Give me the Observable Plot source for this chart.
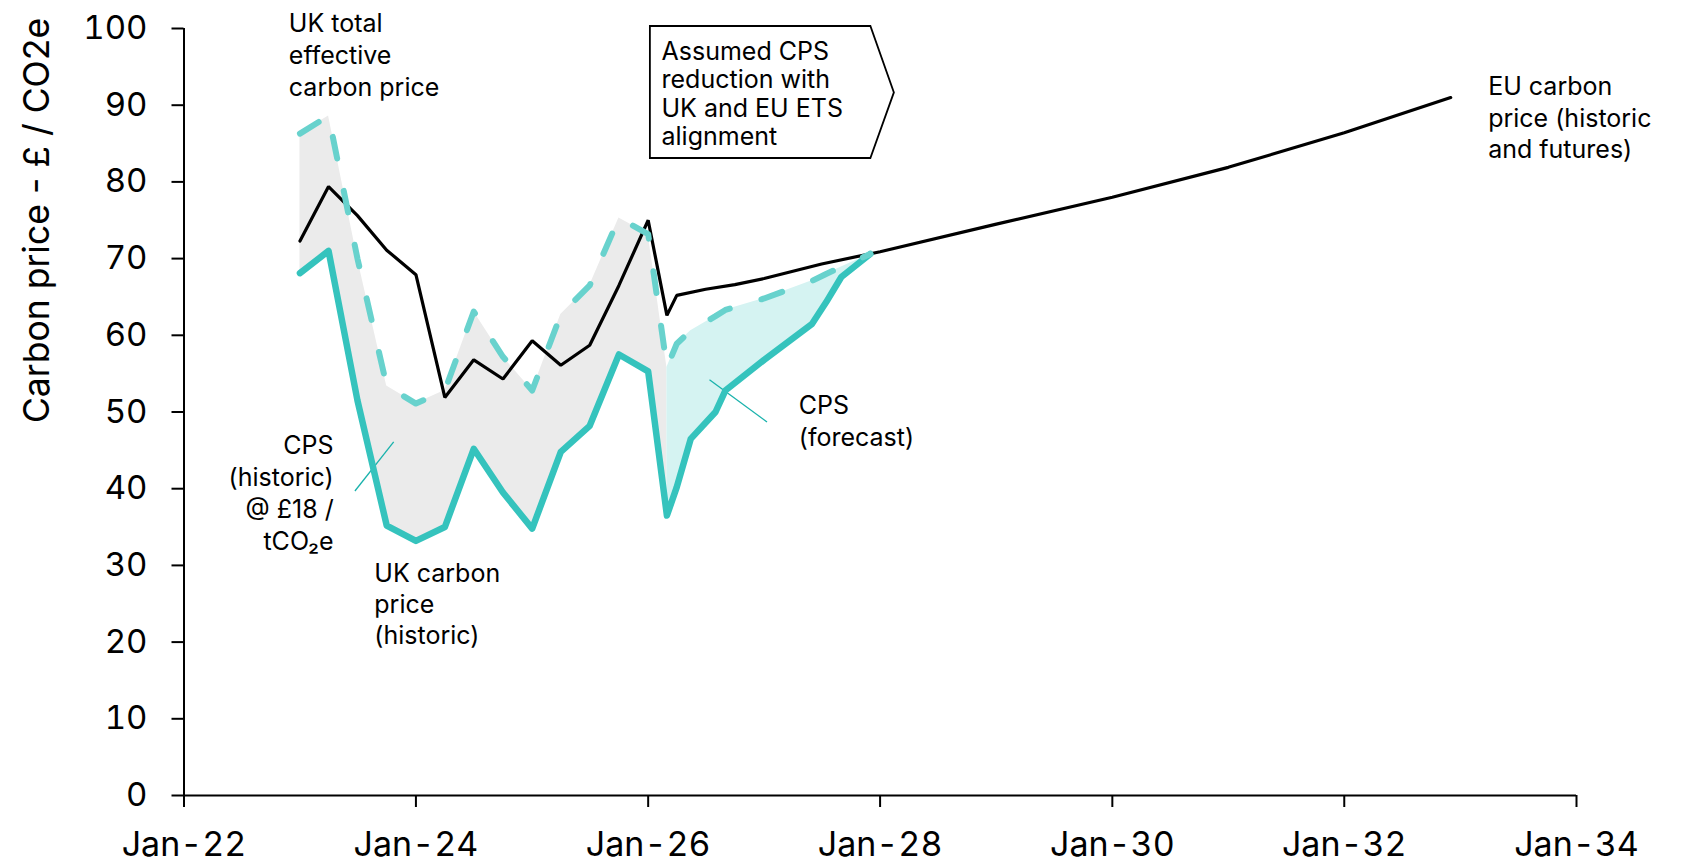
<!DOCTYPE html>
<html><head><meta charset="utf-8">
<script src="https://cdn.jsdelivr.net/npm/d3@7"></script>
<script src="https://cdn.jsdelivr.net/npm/@observablehq/plot@0.6"></script>
<style>
html,body{margin:0;padding:0;background:#fff;}
#chart{width:1693px;height:862px;}
</style></head><body><div id="chart"></div>
<script>
// ---- data ----
const histDates = ["2023-01-01","2023-04-01","2023-07-01","2023-10-01","2024-01-01","2024-04-01","2024-07-01","2024-10-01","2025-01-01","2025-04-01","2025-07-01","2025-10-01","2026-01-01","2026-03-01"];
const ukCarbonHist = [68.1,71.0,51.5,35.2,33.2,35.0,45.2,39.5,34.8,44.8,48.2,57.5,55.3,36.5];
const cpsUpperHist = [86.3,88.6,70.0,53.4,51.1,52.8,63.1,57.2,52.8,62.7,66.5,75.3,73.2,55.8];

const forecastDates = ["2026-03-01","2026-04-01","2026-05-15","2026-08-01","2026-09-01","2027-01-01","2027-06-01","2027-07-15","2027-09-01","2027-12-01"];
const ukCarbonForecast = [36.5,40.2,46.5,50.0,52.8,56.8,61.5,64.3,67.6,70.6];
const cpsUpperForecast = [55.8,58.9,60.6,62.5,63.3,64.8,67.1,68.0,68.9,70.6];

const totalDates = ["2023-01-01","2023-04-01","2023-07-01","2023-10-01","2024-01-01","2024-04-01","2024-07-01","2024-10-01","2025-01-01","2025-04-01","2025-07-01","2025-10-01","2026-01-01","2026-03-01","2026-04-01","2026-07-01","2026-10-01","2027-01-01","2027-07-01","2028-01-01","2029-01-01","2030-01-01","2031-01-01","2032-01-01","2032-12-01"];
const totalPrice = [72.3,79.4,75.6,71.1,67.9,51.9,56.8,54.3,59.3,56.1,58.7,66.5,75.0,62.6,65.2,66.0,66.6,67.4,69.3,70.9,74.5,78.0,81.9,86.4,91.0];

const xTickDates = ["2022-01-01","2024-01-01","2026-01-01","2028-01-01","2030-01-01","2032-01-01","2034-01-01"];
const xTickLabels = ["Jan-22","Jan-24","Jan-26","Jan-28","Jan-30","Jan-32","Jan-34"];
const yTicks = [0,10,20,30,40,50,60,70,80,90,100];
const yLabel = "Carbon price - £ / CO2e";

const annoText = ["UK total\neffective\ncarbon price","EU carbon\nprice (historic\nand futures)","CPS\n(forecast)","CPS\n(historic)\n@ £18 /\ntCO₂e","UK carbon\nprice\n(historic)","Assumed CPS\nreduction with\nUK and EU ETS\nalignment"];

// ---- layout / annotation placement ----
const parse = d3.utcParse("%Y-%m-%d");
const annoPos = [
  {d:"2022-11-27", v:102.5, anchor:"start", lh:1.28},
  {d:"2033-03-29", v:94.3, anchor:"start", lh:1.27},
  {d:"2027-04-20", v:52.7, anchor:"start", lh:1.28},
  {d:"2023-04-17", v:47.5, anchor:"end", lh:1.28},
  {d:"2023-08-23", v:30.7, anchor:"start", lh:1.24},
  {d:"2026-02-12", v:98.6, anchor:"start", lh:1.144}
];
const leaders = [
  {x1:"2026-07-13", y1:54.2, x2:"2027-01-10", y2:48.7},
  {x1:"2023-06-23", y1:39.7, x2:"2023-10-23", y2:46.1}
].map(l => ({x1:parse(l.x1), y1:l.y1, x2:parse(l.x2), y2:l.y2}));
const calloutBox = {left:"2026-01-08", right:"2027-12-03", tip:"2028-02-15", top:100.26, bottom:83.05, mid:91.6};

const hist = histDates.map((d,i)=>({date:parse(d), low:ukCarbonHist[i], high:cpsUpperHist[i]}));
const fc = forecastDates.map((d,i)=>({date:parse(d), low:ukCarbonForecast[i], high:cpsUpperForecast[i]}));
const bothSeries = hist.concat(fc.slice(1));
const total = totalDates.map((d,i)=>({date:parse(d), v:totalPrice[i]}));
const xTicks = xTickDates.map(parse);

const TEAL = "#35c3bd", TEAL_DASH = "#68d2cd", GREY = "#ebebeb", TEAL_FILL = "#d5f3f2";

const boxMark = (index, scales) => {
  const x = scales.x, y = scales.y;
  const L = x(parse(calloutBox.left)), R = x(parse(calloutBox.right)), T = x(parse(calloutBox.tip));
  const top = y(calloutBox.top), bot = y(calloutBox.bottom), mid = y(calloutBox.mid);
  const p = document.createElementNS("http://www.w3.org/2000/svg","path");
  p.setAttribute("d", `M${L},${top}L${R},${top}L${T},${mid}L${R},${bot}L${L},${bot}Z`);
  p.setAttribute("fill","#fff"); p.setAttribute("stroke","#000"); p.setAttribute("stroke-width","1.8");
  return p;
};

const textMarks = annoText.map((t,i)=>Plot.text([t], {
  x: () => parse(annoPos[i].d), y: () => annoPos[i].v,
  text: d => d, textAnchor: annoPos[i].anchor, lineAnchor: "top",
  lineHeight: annoPos[i].lh, fontSize: 25, fill: "#000"
}));

const plot = Plot.plot({
  width: 1693, height: 862,
  marginLeft: 183.5, marginRight: 117, marginTop: 28, marginBottom: 67,
  style: {fontFamily: "Inter, 'Noto Sans', sans-serif", fontSize: "25px", color: "#000", background: "#fff", overflow: "visible"},
  x: {type: "utc", domain: [xTicks[0], xTicks[xTicks.length-1]]},
  y: {domain: [0, 100]},
  marks: [
    Plot.areaY(hist, {x:"date", y1:"low", y2:"high", fill: GREY}),
    Plot.areaY(fc, {x:"date", y1:"low", y2:"high", fill: TEAL_FILL}),
    Plot.link(leaders, {x1:"x1", y1:"y1", x2:"x2", y2:"y2", stroke:"#19b2ac", strokeWidth:1.3}),
    Plot.lineY(total, {x:"date", y:"v", stroke:"#000", strokeWidth:3.2, strokeLinejoin:"miter"}),
    Plot.lineY(bothSeries, {x:"date", y:"low", stroke: TEAL, strokeWidth:6.5, strokeLinejoin:"round", strokeLinecap:"round"}),
    Plot.lineY(bothSeries, {x:"date", y:"high", stroke: TEAL_DASH, strokeWidth:6, strokeDasharray:"22 33", strokeLinecap:"round", strokeLinejoin:"round"}),
    Plot.ruleX([xTicks[0]], {y1:0, y2:100, stroke:"#000", strokeWidth:2}),
    Plot.ruleY([0], {stroke:"#000", strokeWidth:2}),
    Plot.axisX({ticks: xTicks, tickFormat: d => xTickLabels[xTickDates.indexOf(d3.utcFormat("%Y-%m-%d")(d))], tickSize:12, tickPadding:24, fontSize:34, label:null, strokeWidth:2}),
    Plot.axisY({ticks: yTicks, tickSize:12, tickPadding:24.5, fontSize:33, label:null, strokeWidth:2}),
    Plot.text([yLabel], {frameAnchor:"left", dx:-146.5, dy:-191.5, rotate:-90, fontSize:35.5, textAnchor:"middle", lineAnchor:"middle", fill:"#000"}),
    boxMark,
    ...textMarks
  ]
});
document.getElementById("chart").appendChild(plot);
</script></body></html>
